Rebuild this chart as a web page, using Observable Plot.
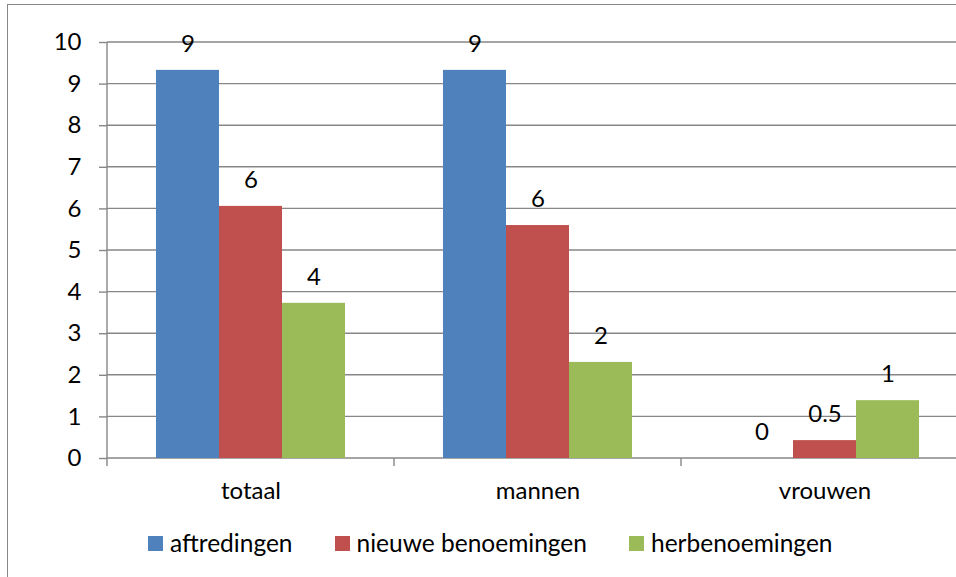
<!DOCTYPE html>
<html><head><meta charset="utf-8">
<script src="https://cdn.jsdelivr.net/npm/d3@7"></script>
<script src="https://cdn.jsdelivr.net/npm/@observablehq/plot@0.6"></script>
<style>
html,body{margin:0;padding:0;background:#fff;overflow:hidden;width:956px;height:577px;}
#wrap{position:relative;width:956px;height:577px;overflow:hidden;font-family:Lato,sans-serif;background:#fff;}
#box{position:absolute;left:7px;top:4px;width:1000px;height:640px;border:1.5px solid #878787;}
#chart{position:absolute;left:0;top:0;width:980px;height:577px;}
#chart svg{max-width:none !important;width:980px !important;height:577px !important;display:block;}
#legend{position:absolute;left:148px;top:528px;display:flex;align-items:center;font-size:24.5px;color:#000;white-space:nowrap;line-height:30px;}
.item{display:flex;align-items:center;margin-right:42px;}
.sw{width:15px;height:15px;margin-right:7px;}
</style></head><body>
<div id="wrap"><div id="box"></div><div id="chart"></div><div id="legend"></div></div>
<script>
const categories = ["totaal", "mannen", "vrouwen"];
const series = ["aftredingen", "nieuwe benoemingen", "herbenoemingen"];
const colors = ["#4F81BD", "#C0504D", "#9BBB59"];
const aftredingen = [9.33, 9.33, 0];
const nieuweBenoemingen = [6.06, 5.6, 0.43];
const herbenoemingen = [3.73, 2.31, 1.39];
const aftredingenLabels = ["9", "9", "0"];
const nieuweLabels = ["6", "6", "0.5"];
const herbLabels = ["4", "2", "1"];
const yTicks = [0, 1, 2, 3, 4, 5, 6, 7, 8, 9, 10];

const values = [aftredingen, nieuweBenoemingen, herbenoemingen];
const labels = [aftredingenLabels, nieuweLabels, herbLabels];
const rows = [];
categories.forEach((c, i) => series.forEach((s, j) => rows.push({category: c, series: s, value: values[j][i], label: labels[j][i]})));

const gray = "#878787";
const fontSize = 24;

// grid lines, y-axis line and category boundary ticks, drawn from the scales
const gridAndAxes = Plot.ruleY(categories, {
  fx: d => d,
  y: () => 0,
  render(index, scales, vals, dims) {
    const y0 = scales.y(0), yTop = scales.y(d3.max(yTicks));
    const xl = dims.marginLeft;
    const g = d3.create("svg:g").attr("stroke", gray).attr("stroke-width", 1.4).attr("fill", "none");
    const cat = categories[index[0]];
    if (cat === categories[0]) {
      const span = scales.fx && scales.fx.step ? scales.fx.step() * categories.length : dims.width - dims.marginLeft - dims.marginRight;
      for (const t of yTicks) {
        g.append("line").attr("x1", xl).attr("x2", xl + span).attr("y1", scales.y(t)).attr("y2", scales.y(t));
      }
    }
    g.append("line").attr("x1", xl).attr("x2", xl).attr("y1", cat === categories[0] ? yTop : y0).attr("y2", y0 + 8);
    return g.node();
  }
});

const chart = Plot.plot({
  width: 980,
  height: 577,
  marginLeft: 107,
  marginRight: 12,
  marginTop: 42,
  marginBottom: 119,
  style: {fontFamily: "Lato, sans-serif", fontSize: fontSize + "px", color: "#000", background: "transparent", maxWidth: "none", overflow: "visible"},
  fx: {domain: categories, paddingInner: 0, paddingOuter: 0, label: null},
  x: {domain: series, paddingInner: 0, paddingOuter: 0.75, axis: null},
  y: {domain: [0, 10], label: null},
  color: {domain: series, range: colors},
  marks: [
    gridAndAxes,
    Plot.barY(rows, {fx: "category", x: "series", y: "value", fill: "series"}),
    Plot.text(rows, {fx: "category", x: "series", y: "value", text: "label", dy: -26, fontSize, fill: "#000"}),
    Plot.axisY(yTicks, {tickSize: 8, tickPadding: 18, stroke: gray, strokeWidth: 1.4, fill: "#000", fontSize, label: null, tickFormat: d => String(d)}),
    Plot.axisFx({anchor: "bottom", tickSize: 0, tickPadding: 23, fontSize, label: null, fill: "#000"})
  ]
});
document.getElementById("chart").appendChild(chart);

const legend = document.getElementById("legend");
series.forEach((s, i) => {
  const item = document.createElement("div");
  item.className = "item";
  const sw = document.createElement("div");
  sw.className = "sw";
  sw.style.background = colors[i];
  const t = document.createElement("span");
  t.textContent = s;
  item.appendChild(sw);
  item.appendChild(t);
  legend.appendChild(item);
});
</script>
</body></html>
